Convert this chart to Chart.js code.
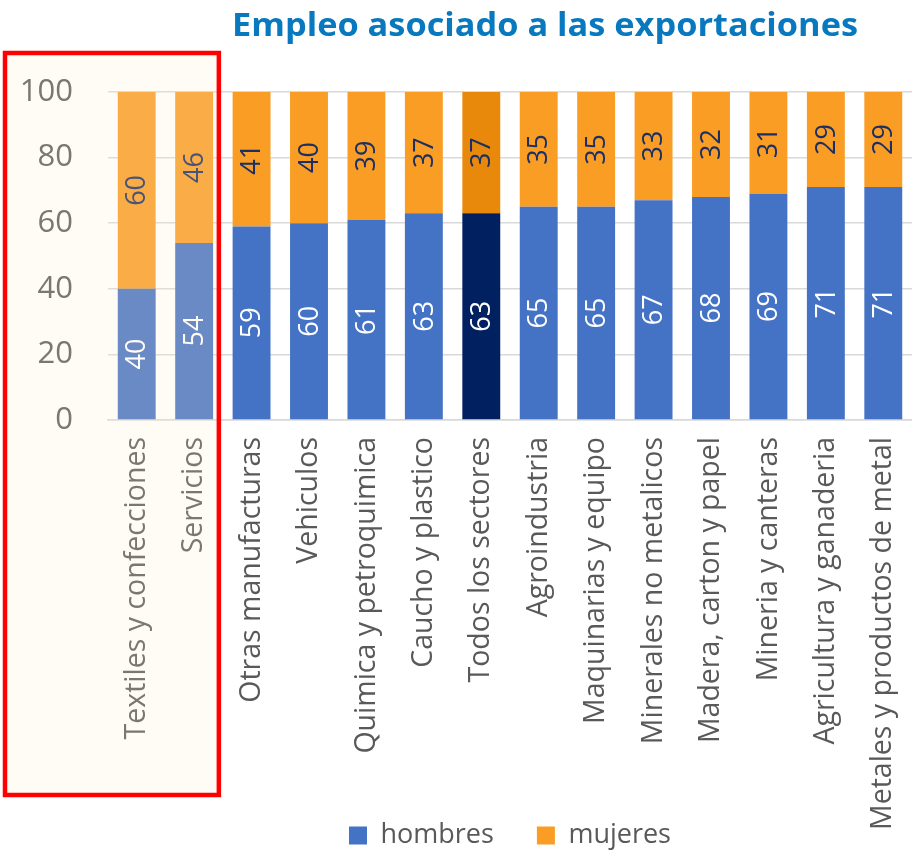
<!DOCTYPE html>
<html>
<head>
<meta charset="utf-8">
<title>Empleo asociado a las exportaciones</title>
<script src="https://cdn.jsdelivr.net/npm/chart.js@4.4.1/dist/chart.umd.min.js"></script>
<style>
  html, body { margin: 0; padding: 0; background: #fff; }
  #wrap { width: 912px; height: 850px; }
</style>
</head>
<body>
<div id="wrap"><canvas id="empleoChart"></canvas></div>
<script>
// Datos
const titulo = 'Empleo asociado a las exportaciones';
const categorias = [
    'Textiles y confecciones', 'Servicios', 'Otras manufacturas', 'Vehiculos',
    'Quimica y petroquimica', 'Caucho y plastico', 'Todos los sectores', 'Agroindustria',
    'Maquinarias y equipo', 'Minerales no metalicos', 'Madera, carton y papel',
    'Mineria y canteras', 'Agricultura y ganaderia', 'Metales y productos de metal'
];
const hombres = [40, 54, 59, 60, 61, 63, 63, 65, 65, 67, 68, 69, 71, 71];
const mujeres = [60, 46, 41, 40, 39, 37, 37, 35, 35, 33, 32, 31, 29, 29];
const yTicks = [0, 20, 40, 60, 80, 100];
const destacado = 'Todos los sectores';
const resaltados = ['Textiles y confecciones', 'Servicios'];

// Colores
const azul = '#4472C4', azulOscuro = '#002060';
const naranja = '#F99D25', naranjaOscuro = '#E9890B';
const gris = '#595959';

const colHombres = categorias.map(c => c === destacado ? azulOscuro : azul);
const colMujeres = categorias.map(c => c === destacado ? naranjaOscuro : naranja);

// Etiquetas dentro de las barras (rotadas)
const etiquetasBarras = {
    id: 'etiquetasBarras',
    afterDatasetsDraw(chart) {
        const ctx = chart.ctx;
        chart.data.datasets.forEach((ds, i) => {
            const meta = chart.getDatasetMeta(i);
            meta.data.forEach((bar, j) => {
                const yMid = (bar.y + bar.base) / 2;
                ctx.save();
                ctx.translate(bar.x, yMid);
                ctx.rotate(-Math.PI / 2);
                ctx.font = '27px "Open Sans"';
                ctx.fillStyle = ds.colorEtiqueta;
                ctx.textAlign = 'center';
                ctx.textBaseline = 'middle';
                ctx.fillText(String(ds.data[j]), 0, 1);
                ctx.restore();
            });
        });
    }
};

// Titulo y recuadro de resaltado
const tituloYRecuadro = {
    id: 'tituloYRecuadro',
    afterDraw(chart) {
        const ctx = chart.ctx;
        const area = chart.chartArea;
        const x = chart.scales.x;

        // titulo
        ctx.save();
        ctx.font = 'bold 33px "Open Sans"';
        const w = ctx.measureText(titulo).width;
        const ancho = 626;
        ctx.translate(232, 36);
        ctx.scale(ancho / w, 1);
        ctx.fillStyle = '#0879BF';
        ctx.textBaseline = 'alphabetic';
        ctx.fillText(titulo, 0, 0);
        ctx.restore();

        // recuadro sobre las dos primeras categorias
        const ultimo = categorias.indexOf(resaltados[resaltados.length - 1]);
        const der = (x.getPixelForValue(ultimo) + x.getPixelForValue(ultimo + 1)) / 2 - 4;
        const izq = 5, arriba = area.top - 39, abajo = area.bottom + 375;
        ctx.save();
        ctx.fillStyle = 'rgba(255, 235, 205, 0.2)';
        ctx.fillRect(izq, arriba, der - izq, abajo - arriba);
        ctx.strokeStyle = '#FF0000';
        ctx.lineWidth = 4.5;
        ctx.strokeRect(izq, arriba, der - izq, abajo - arriba);
        ctx.restore();
    }
};

new Chart(document.getElementById('empleoChart'), {
    type: 'bar',
    data: {
        labels: categorias,
        datasets: [
            {
                label: 'hombres',
                data: hombres,
                backgroundColor: colHombres,
                colorEtiqueta: '#FFFFFF',
                categoryPercentage: 1,
                barPercentage: 0.66
            },
            {
                label: 'mujeres',
                data: mujeres,
                backgroundColor: colMujeres,
                colorEtiqueta: '#1B2F63',
                categoryPercentage: 1,
                barPercentage: 0.66
            }
        ]
    },
    options: {
        responsive: true,
        maintainAspectRatio: false,
        animation: false,
        layout: { padding: { top: 92, left: 20, right: 0, bottom: -9 } },
        plugins: {
            title: { display: false },
            tooltip: { enabled: false },
            legend: {
                position: 'bottom',
                fullSize: false,
                labels: {
                    color: gris,
                    font: { family: 'Open Sans', size: 27 },
                    boxWidth: 18,
                    boxHeight: 18,
                    padding: 43,
                    generateLabels: (chart) => chart.data.datasets.map((ds, i) => ({
                        text: ds.label,
                        fillStyle: i === 0 ? azul : naranja,
                        strokeStyle: i === 0 ? azul : naranja,
                        lineWidth: 0,
                        fontColor: gris,
                        datasetIndex: i
                    }))
                }
            }
        },
        scales: {
            x: {
                stacked: true,
                grid: { display: false, drawTicks: false },
                border: { color: '#D9D9D9', width: 1.5 },
                ticks: {
                    color: gris,
                    font: { family: 'Open Sans', size: 28.5 },
                    minRotation: 90,
                    maxRotation: 90,
                    autoSkip: false,
                    padding: 17
                },
                afterFit(scale) {
                    scale.height = 359;
                    scale.paddingLeft = 0;
                    scale.paddingRight = 0;
                    // dejar que las etiquetas largas pasen por debajo del eje
                    scale._computeLabelArea = () => undefined;
                }
            },
            y: {
                stacked: true,
                min: 0,
                max: 100,
                afterBuildTicks(scale) { scale.ticks = yTicks.map(v => ({ value: v })); },
                afterFit(scale) { scale.width = 88; },
                grid: { color: '#D9D9D9', lineWidth: 1.5, drawTicks: false },
                border: { display: false },
                ticks: {
                    color: gris,
                    font: { family: 'Open Sans', size: 31 },
                    padding: 35
                }
            }
        }
    },
    plugins: [etiquetasBarras, tituloYRecuadro]
});
</script>
</body>
</html>
